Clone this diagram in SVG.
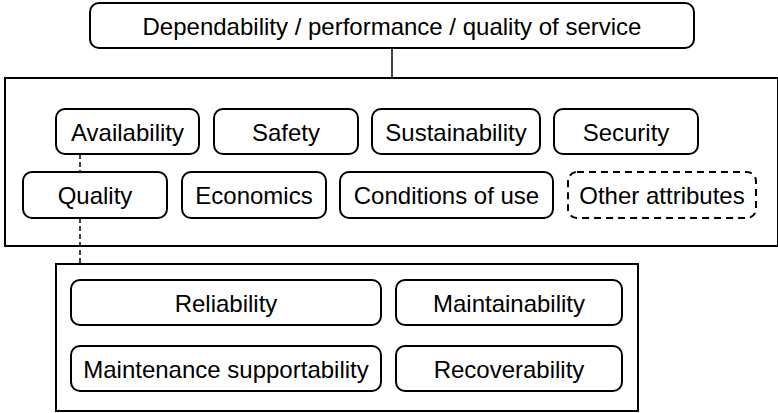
<svg xmlns="http://www.w3.org/2000/svg" width="778" height="413" viewBox="0 0 778 413">
<style>
.n{fill:#fff;stroke:#000;stroke-width:2}
.d{fill:#fff;stroke:#000;stroke-width:2;stroke-dasharray:7,5}
.c{fill:none;stroke:#000;stroke-width:1.5}
.dc{fill:none;stroke:#000;stroke-width:1.5;stroke-dasharray:5,3}
text{font-family:"Liberation Sans",Arial,sans-serif;font-size:24px;text-anchor:middle;fill:#000}
</style>
<rect width="778" height="413" fill="#fff"/>
<g id="group-attributes"><rect class="n" x="5" y="78" width="773" height="168" rx="0"/></g>
<g id="group-quality"><rect class="n" x="56" y="264" width="582" height="147"/></g>
<g id="connectors">
<line class="c" x1="392" y1="48" x2="392" y2="78"/>
<line class="dc" x1="80" y1="154" x2="80" y2="172"/>
<line class="dc" x1="80" y1="218" x2="80" y2="264"/>
</g>
<g id="top"><rect class="n" x="90" y="3" width="604" height="45" rx="9"/><text x="392" y="35">Dependability / performance / quality of service</text></g>
<g id="availability"><rect class="n" x="56" y="109" width="143" height="45" rx="9"/><text x="127.5" y="141">Availability</text></g>
<g id="safety"><rect class="n" x="214" y="109" width="144" height="45" rx="9"/><text x="286" y="141">Safety</text></g>
<g id="sustainability"><rect class="n" x="372" y="109" width="168" height="45" rx="9"/><text x="456" y="141">Sustainability</text></g>
<g id="security"><rect class="n" x="554" y="109" width="144" height="45" rx="9"/><text x="626" y="141">Security</text></g>
<g id="quality"><rect class="n" x="23" y="172" width="144" height="46" rx="9"/><text x="95" y="204">Quality</text></g>
<g id="economics"><rect class="n" x="182" y="172" width="144" height="46" rx="9"/><text x="254" y="204">Economics</text></g>
<g id="conditions"><rect class="n" x="340" y="172" width="213" height="46" rx="9"/><text x="446.5" y="204">Conditions of use</text></g>
<g id="other"><rect class="d" x="568" y="172" width="188" height="46" rx="9"/><text x="662" y="204">Other attributes</text></g>
<g id="reliability"><rect class="n" x="71" y="280" width="310" height="45" rx="9"/><text x="226" y="312">Reliability</text></g>
<g id="maintainability"><rect class="n" x="396" y="280" width="226" height="45" rx="9"/><text x="509" y="312">Maintainability</text></g>
<g id="maintenance"><rect class="n" x="71" y="346" width="310" height="45" rx="9"/><text x="226" y="378">Maintenance supportability</text></g>
<g id="recoverability"><rect class="n" x="396" y="346" width="226" height="45" rx="9"/><text x="509" y="378">Recoverability</text></g>
</svg>
